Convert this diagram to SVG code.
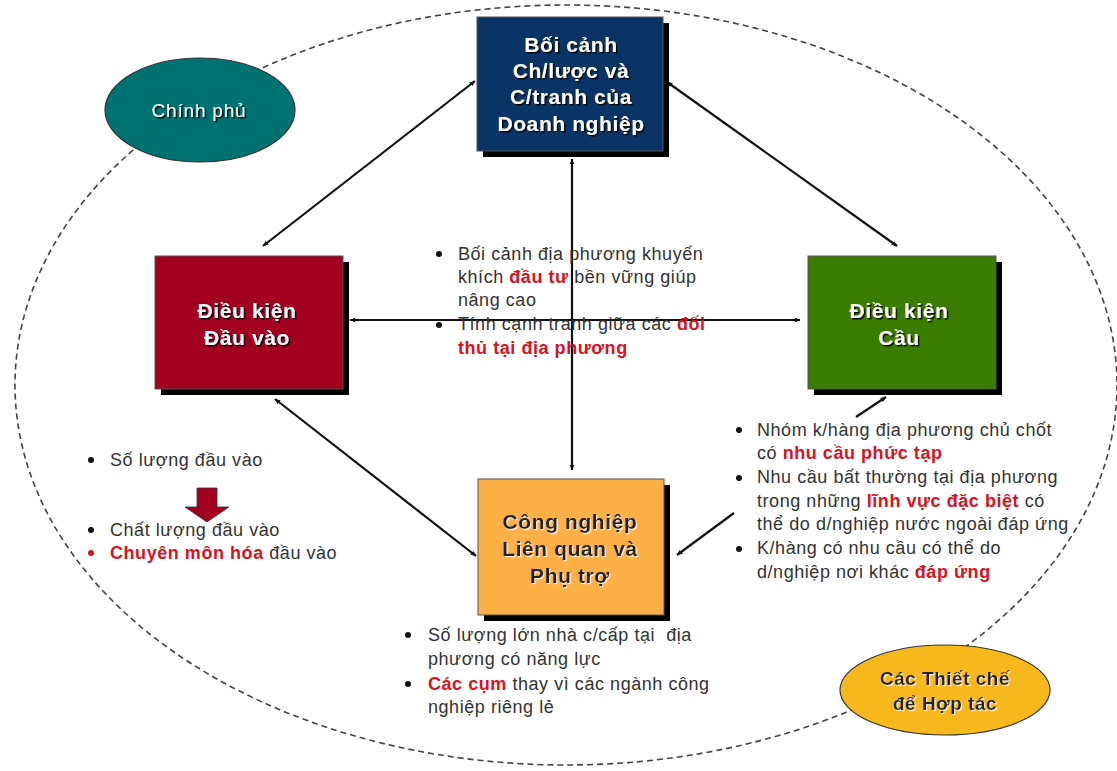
<svg xmlns="http://www.w3.org/2000/svg" width="1117" height="771" viewBox="0 0 1117 771">
<style>
text{font-family:"Liberation Sans",Arial,sans-serif}
.box{stroke:#555;stroke-width:1}
.shadow{fill:#000}
.bt{font-size:21px;font-weight:bold;text-anchor:middle;letter-spacing:0.6px}
.w{fill:#fff;filter:url(#ts)}
.d{fill:#222;filter:url(#tsl)}
.b{font-size:18px;fill:#333;letter-spacing:0.55px}
.r{fill:#d8121e;font-weight:bold}
.con{stroke:#111;stroke-width:2.2;fill:none}
.dash{stroke:#444;stroke-width:1.6;fill:none;stroke-dasharray:6 4}
</style>
<defs>
<marker id="ah" viewBox="0 0 10 10" refX="9" refY="5" markerWidth="6" markerHeight="6" orient="auto-start-reverse" markerUnits="userSpaceOnUse">
<path d="M0,1 L10,5 L0,9 z" fill="#111"/>
</marker>
<filter id="ts" x="-10%" y="-20%" width="120%" height="150%">
<feDropShadow dx="1.5" dy="1.5" stdDeviation="0.5" flood-color="#000" flood-opacity="0.9"/>
</filter>
<filter id="tsl" x="-10%" y="-20%" width="120%" height="150%">
<feDropShadow dx="1.2" dy="1.2" stdDeviation="0.4" flood-color="#fff" flood-opacity="0.8"/>
</filter>
</defs>
<rect width="1117" height="771" fill="#fff"/>
<ellipse cx="566" cy="385" rx="551" ry="380" class="dash"/>

<g id="connectors">
<line class="con" x1="475" y1="81" x2="263" y2="246" marker-start="url(#ah)" marker-end="url(#ah)"/>
<line class="con" x1="667" y1="82" x2="897" y2="246" marker-start="url(#ah)" marker-end="url(#ah)"/>
<line class="con" x1="350" y1="320" x2="800" y2="320" marker-start="url(#ah)" marker-end="url(#ah)"/>
<line class="con" x1="572" y1="159" x2="572" y2="470" marker-start="url(#ah)" marker-end="url(#ah)"/>
<line class="con" x1="275" y1="399" x2="476" y2="556" marker-start="url(#ah)" marker-end="url(#ah)"/>
<line class="con" x1="734" y1="513" x2="677" y2="555" marker-end="url(#ah)"/>
<line class="con" x1="856" y1="417" x2="886" y2="397" marker-end="url(#ah)"/>
</g>

<g id="top-box">
<rect class="shadow" x="483" y="23" width="186" height="134"/>
<rect class="box" x="477" y="17" width="186" height="134" fill="#0b3466"/>
<text class="bt w" x="571" y="52">Bối cảnh</text>
<text class="bt w" x="571" y="78">Ch/lược và</text>
<text class="bt w" x="571" y="104">C/tranh của</text>
<text class="bt w" x="571" y="131">Doanh nghiệp</text>
</g>

<g id="left-box">
<rect class="shadow" x="161" y="262" width="188" height="133"/>
<rect class="box" x="155" y="256" width="188" height="133" fill="#a2001e"/>
<text class="bt w" x="247" y="318">Điều kiện</text>
<text class="bt w" x="247" y="345">Đầu vào</text>
</g>

<g id="right-box">
<rect class="shadow" x="814" y="262" width="188" height="133"/>
<rect class="box" x="808" y="256" width="188" height="133" fill="#3b7d00"/>
<text class="bt w" x="899" y="318">Điều kiện</text>
<text class="bt w" x="899" y="345">Cầu</text>
</g>

<g id="bottom-box">
<rect class="shadow" x="484" y="485" width="186" height="136"/>
<rect class="box" x="478" y="479" width="186" height="136" fill="#fdb046"/>
<text class="bt d" x="570" y="529">Công nghiệp</text>
<text class="bt d" x="570" y="556">Liên quan và</text>
<text class="bt d" x="570" y="583">Phụ trợ</text>
</g>

<g id="chinh-phu">
<ellipse cx="200" cy="110" rx="95" ry="52" fill="#007272" stroke="#333" stroke-width="1.2"/>
<text x="199" y="117" font-size="19" letter-spacing="0.8" fill="#fff" text-anchor="middle" filter="url(#ts)">Chính phủ</text>
</g>

<g id="thiet-che">
<ellipse cx="945" cy="690" rx="105" ry="45" fill="#f7b81c" stroke="#333" stroke-width="1.2"/>
<text class="d" x="945" y="685" font-size="19" letter-spacing="0.5" font-weight="bold" text-anchor="middle">Các Thiết chế</text>
<text class="d" x="945" y="710" font-size="19" letter-spacing="0.5" font-weight="bold" text-anchor="middle">để Hợp tác</text>
</g>

<g id="center-text" class="b">
<circle cx="439" cy="254" r="3" fill="#111"/>
<text x="458" y="260">Bối cảnh địa phương khuyến</text>
<text x="458" y="283">khích <tspan class="r">đầu tư</tspan> bền vững giúp</text>
<text x="458" y="306">nâng cao</text>
<circle cx="439" cy="325" r="3" fill="#111"/>
<text x="458" y="330">Tính cạnh tranh giữa các <tspan class="r">đối</tspan></text>
<text x="458" y="354"><tspan class="r">thủ tại địa phương</tspan></text>
</g>

<g id="right-text" class="b">
<circle cx="739" cy="430" r="3" fill="#111"/>
<text x="757" y="436">Nhóm k/hàng địa phương chủ chốt</text>
<text x="757" y="459">có <tspan class="r">nhu cầu phức tạp</tspan></text>
<circle cx="739" cy="478" r="3" fill="#111"/>
<text x="757" y="483">Nhu cầu bất thường tại địa phương</text>
<text x="757" y="507">trong những <tspan class="r">lĩnh vực đặc biệt</tspan> có</text>
<text x="757" y="530">thể do d/nghiệp nước ngoài đáp ứng</text>
<circle cx="739" cy="549" r="3" fill="#111"/>
<text x="757" y="554">K/hàng có nhu cầu có thể do</text>
<text x="757" y="578">d/nghiệp nơi khác <tspan class="r">đáp ứng</tspan></text>
</g>

<g id="bottom-text" class="b">
<circle cx="408" cy="635" r="3" fill="#111"/>
<text x="428" y="641" xml:space="preserve">Số lượng lớn nhà c/cấp tại  địa</text>
<text x="428" y="665">phương có năng lực</text>
<circle cx="408" cy="684" r="3" fill="#111"/>
<text x="428" y="690"><tspan class="r">Các cụm</tspan> thay vì các ngành công</text>
<text x="428" y="713">nghiệp riêng lẻ</text>
</g>

<g id="left-text" class="b">
<circle cx="91" cy="460" r="3" fill="#111"/>
<text x="110" y="466">Số lượng đầu vào</text>
<path d="M197,488 H217 V507 H229 L207,522 L185,507 H197 Z" fill="#a2001e" stroke="#333" stroke-width="0.8"/>
<circle cx="91" cy="530" r="3" fill="#111"/>
<text x="110" y="536">Chất lượng đầu vào</text>
<circle cx="91" cy="553" r="3" fill="#d8121e"/>
<text x="110" y="559"><tspan class="r">Chuyên môn hóa</tspan> đầu vào</text>
</g>
</svg>
